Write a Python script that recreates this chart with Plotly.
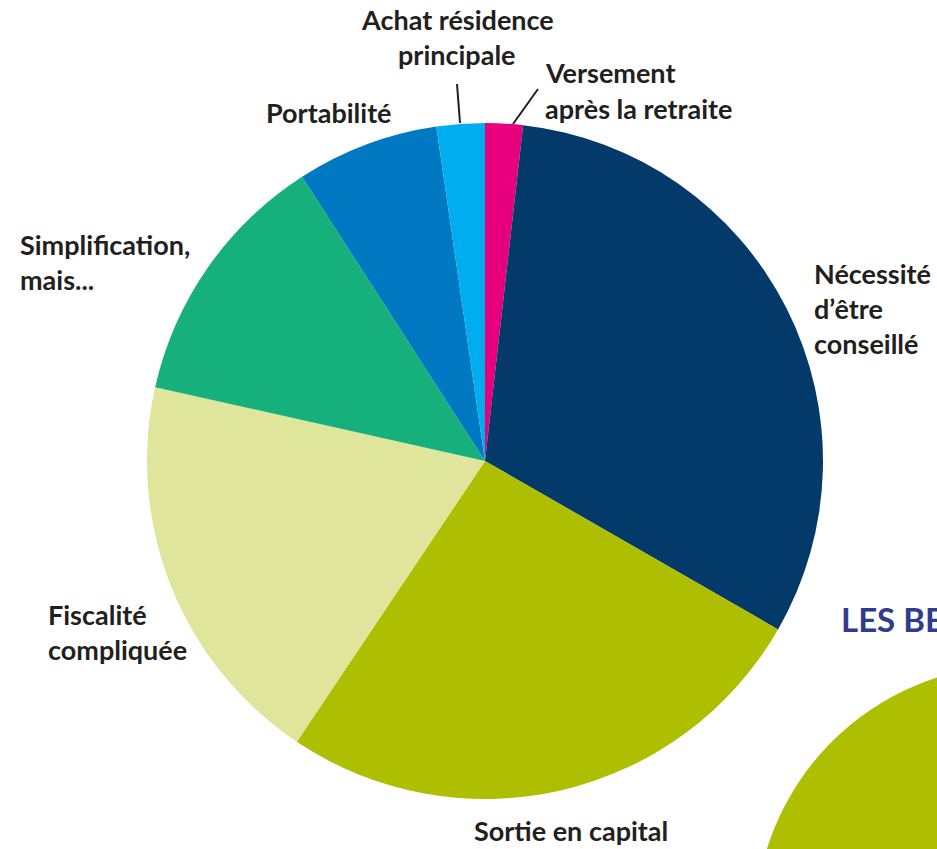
import plotly.graph_objects as go

# ---- data ----
labels = ["Versement après la retraite", "Nécessité d'être conseillé", "Sortie en capital",
          "Fiscalité compliquée", "Simplification, mais...", "Portabilité",
          "Achat résidence principale"]
values = [1.8, 31.5, 26.1, 19.1, 12.4, 6.8, 2.3]
colors = ["#E6007E", "#043A6A", "#AEBE00", "#DFE59B", "#15B07B", "#0079C2", "#00AEEF"]

# label text lines (display)
label_lines = [
    ["Versement", "après la retraite"],
    ["Nécessité", "d’être", "conseillé"],
    ["Sortie en capital"],
    ["Fiscalité", "compliquée"],
    ["Simplification,", "mais..."],
    ["Portabilité"],
    ["Achat résidence", "principale"],
]

W, H = 937, 849
cx, cy, R = 485, 461, 338

# layout positions for labels (pixel x, first-line center y, anchor)
label_pos = [
    (543, 73, "left"),
    (812, 273, "left"),
    (571, 830, "center"),
    (46, 614, "left"),
    (18, 244, "left"),
    (329, 112, "center"),
    (457, 19, "center"),
]
pitch = 35
FS = 27

fig = go.Figure(go.Pie(
    labels=labels, values=values, sort=False, direction="clockwise", rotation=0,
    marker=dict(colors=colors, line=dict(width=0)),
    textinfo="none", hoverinfo="label+percent", showlegend=False,
    domain=dict(x=[(cx - R) / W, (cx + R) / W], y=[(H - cy - R) / H, (H - cy + R) / H]),
))

annotations = []
for lines, (px, py, anc) in zip(label_lines, label_pos):
    for i, ln in enumerate(lines):
        annotations.append(dict(
            x=px / W, y=1 - (py + i * pitch) / H, xref="paper", yref="paper",
            text=ln, showarrow=False, xanchor=anc, yanchor="middle",
            font=dict(family="Lato", size=FS, color="#231F20", weight="bold"),
        ))

annotations.append(dict(
    x=839 / W, y=1 - 619 / H, xref="paper", yref="paper", text="LES BESOINS",
    showarrow=False, xanchor="left", yanchor="middle",
    font=dict(family="Lato", size=33, color="#2E3B8F", weight="bold"),
))

shapes = [
    dict(type="line", xref="paper", yref="paper",
         x0=457 / W, y0=1 - 84 / H, x1=460 / W, y1=1 - 123 / H,
         line=dict(color="#231F20", width=2)),
    dict(type="line", xref="paper", yref="paper",
         x0=538 / W, y0=1 - 89 / H, x1=513 / W, y1=1 - 124 / H,
         line=dict(color="#231F20", width=2)),
    dict(type="circle", xref="paper", yref="paper",
         x0=(1017 - 262) / W, x1=(1017 + 262) / W,
         y0=1 - (927 + 262) / H, y1=1 - (927 - 262) / H,
         fillcolor="#AEBE00", line=dict(width=0), layer="below"),
]

fig.update_layout(
    width=W, height=H, margin=dict(l=0, r=0, t=0, b=0),
    paper_bgcolor="white", plot_bgcolor="white",
    annotations=annotations, shapes=shapes,
)

fig.write_html("out.html", config={"displayModeBar": False},
               post_script="document.body.style.margin='0';")
